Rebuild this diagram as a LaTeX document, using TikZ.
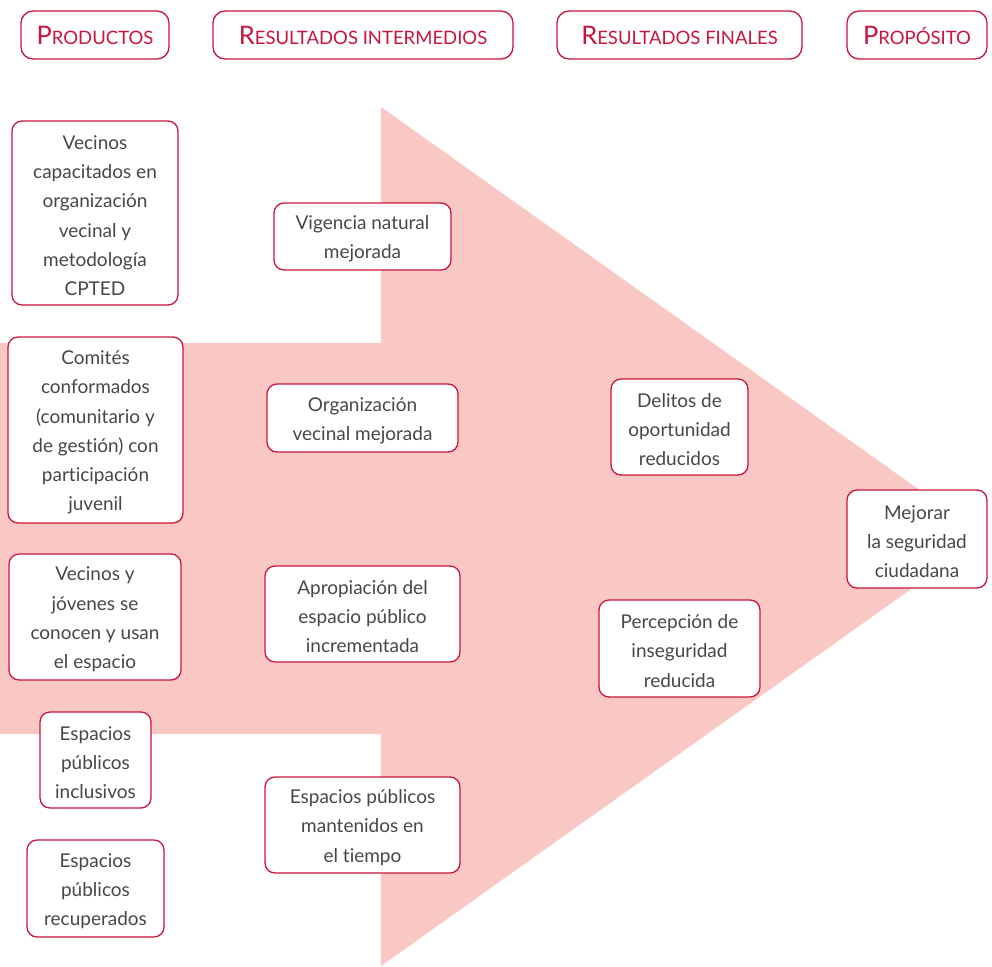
\documentclass[tikz,border=0pt]{standalone}
\usepackage{fontspec}
\setmainfont{Lato}[Ligatures=NoCommon]
\definecolor{frame}{HTML}{C8153F}
\definecolor{arrowfill}{HTML}{F9C7C4}
\definecolor{bodytext}{HTML}{474747}
% fake small caps: large initial, smaller capitals
\newcommand\headcaps[2]{{\fontsize{25.5}{25.5}\selectfont #1}{\fontsize{18.5}{18.5}\selectfont #2}}
\tikzset{
  card/.style={draw=frame, line width=1.3pt, rounded corners=10pt, fill=white,
    inner sep=0pt},
  cardtext/.style={text=bodytext, align=center, inner sep=0pt, yshift=-2.5pt,
    font=\fontsize{19}{29.3}\selectfont},
  head/.style={draw=frame, line width=1.3pt, rounded corners=12pt, fill=white,
    text=frame, inner sep=0pt, minimum height=48pt},
}
\begin{document}
\begin{tikzpicture}[x=1pt, y=-1pt]
\useasboundingbox (0,0) rectangle (992,966);

% big background arrow
\fill[arrowfill] (0,343) -- (381,343) -- (381,107) -- (985,536.5)
  -- (381,966) -- (381,734) -- (0,734) -- cycle;

% column headers
\node[head, minimum width=148pt] (prod) at (95,35) {\headcaps{P}{RODUCTOS}};
\node[head, minimum width=300pt] (rint) at (363,35) {\headcaps{R}{ESULTADOS INTERMEDIOS}};
\node[head, minimum width=245pt] (rfin) at (679.5,35) {\headcaps{R}{ESULTADOS FINALES}};
\node[head, minimum width=140pt] (prop) at (917,35) {\headcaps{P}{ROPÓSITO}};

% products
\node[card, minimum width=166pt, minimum height=184pt,
  label={[cardtext]center:{Vecinos\\capacitados en\\organización\\vecinal y\\metodología\\CPTED}}]
  (p1) at (95,213) {};
\node[card, minimum width=175pt, minimum height=186pt,
  label={[cardtext]center:{Comités\\conformados\\(comunitario y\\de gestión) con\\participación\\juvenil}}]
  (p2) at (95.5,430) {};
\node[card, minimum width=172pt, minimum height=126pt,
  label={[cardtext]center:{Vecinos y\\jóvenes se\\conocen y usan\\el espacio}}]
  (p3) at (95,617) {};
\node[card, minimum width=111pt, minimum height=96pt,
  label={[cardtext]center:{Espacios\\públicos\\inclusivos}}]
  (p4) at (95.5,760) {};
\node[card, minimum width=137pt, minimum height=97pt,
  label={[cardtext]center:{Espacios\\públicos\\recuperados}}]
  (p5) at (95.5,888.5) {};

% intermediate results
\node[card, minimum width=177pt, minimum height=67pt,
  label={[cardtext]center:{Vigencia natural\\mejorada}}]
  (m1) at (362.5,236.5) {};
\node[card, minimum width=191pt, minimum height=68pt,
  label={[cardtext]center:{Organización\\vecinal mejorada}}]
  (m2) at (362.5,418) {};
\node[card, minimum width=195pt, minimum height=96pt,
  label={[cardtext]center:{Apropiación del\\espacio público\\incrementada}}]
  (m3) at (362.5,614) {};
\node[card, minimum width=195pt, minimum height=96pt,
  label={[cardtext]center:{Espacios públicos\\mantenidos en\\el tiempo}}]
  (m4) at (362.5,825) {};

% final results
\node[card, minimum width=137pt, minimum height=96pt,
  label={[cardtext]center:{Delitos de\\oportunidad\\reducidos}}]
  (f1) at (679.5,427) {};
\node[card, minimum width=161pt, minimum height=97pt,
  label={[cardtext]center:{Percepción de\\inseguridad\\reducida}}]
  (f2) at (679.5,648.5) {};

% purpose
\node[card, minimum width=140pt, minimum height=98pt,
  label={[cardtext]center:{Mejorar\\la seguridad\\ciudadana}}]
  (goal) at (917,539) {};
\end{tikzpicture}
\end{document}
